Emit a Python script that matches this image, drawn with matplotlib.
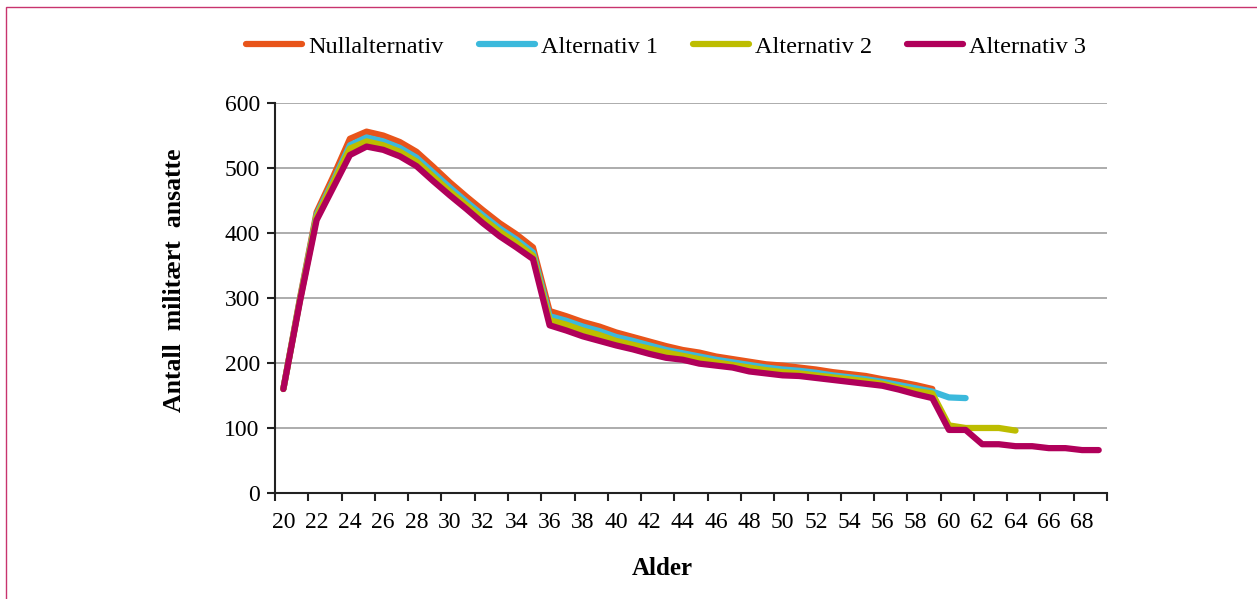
import matplotlib.pyplot as plt
from matplotlib.patches import Rectangle
import numpy as np

plt.rcParams['font.family'] = ['Liberation Serif', 'DejaVu Serif']

# data
ages_null = list(range(20, 60))
null_alt = [160, 300, 432, 487, 545, 556, 550, 540, 525, 502, 478, 456, 435, 415, 398, 378,
            280, 272, 263, 256, 247, 240, 233, 226, 220, 216, 210, 206, 202, 198, 196, 193,
            190, 186, 183, 180, 175, 171, 166, 160]

ages_a1 = list(range(20, 62))
alt1 = [160, 298, 428, 480, 535, 547, 541, 531, 516, 493, 470, 448, 427, 407, 390, 370,
        272, 265, 256, 249, 240, 234, 227, 220, 215, 210, 205, 201, 197, 193, 190, 188,
        185, 181, 178, 175, 171, 166, 161, 156, 147, 146]

ages_a2 = list(range(20, 65))
alt2 = [160, 297, 425, 477, 530, 541, 535, 525, 510, 487, 464, 443, 422, 402, 385, 365,
        266, 259, 250, 243, 234, 228, 222, 216, 211, 206, 201, 197, 193, 189, 186, 184,
        181, 178, 175, 172, 168, 162, 157, 153, 104, 100, 100, 100, 96]

ages_a3 = list(range(20, 70))
alt3 = [160, 295, 420, 470, 520, 533, 528, 518, 503, 480, 458, 437, 415, 395, 378, 360,
        258, 250, 241, 234, 227, 221, 214, 208, 205, 199, 196, 193, 187, 184, 181, 180,
        177, 174, 171, 168, 165, 159, 152, 146, 97, 97, 75, 75, 72, 72, 69, 69, 66, 66]

labels = ['Nullalternativ', 'Alternativ 1', 'Alternativ 2', 'Alternativ 3']
colors = ['#E8541A', '#3BB9DC', '#BDBD00', '#B0005A']

fig = plt.figure(figsize=(12.57, 5.99), dpi=100)
ax = fig.add_axes([0.2188, 0.177, 0.6619, 0.651])

series = [(ages_null, null_alt), (ages_a1, alt1), (ages_a2, alt2), (ages_a3, alt3)]
for (x, y), lab, c in zip(series, labels, colors):
    ax.plot(x, y, color=c, lw=4.5, label=lab, solid_capstyle='round', solid_joinstyle='round')

ax.set_xlim(19.5, 69.5)
ax.set_ylim(0, 600)
ax.set_yticks(np.arange(0, 601, 100))
ax.yaxis.grid(True, color='#A6A6A6', lw=1.3)
ax.set_axisbelow(True)

# ticks at category boundaries, labels at category centres
ax.set_xticks(np.arange(19.5, 70, 2))
ax.set_xticklabels([])
ax.set_xticks(np.arange(20, 70, 2), minor=True)
ax.set_xticklabels([str(a) for a in range(20, 70, 2)], minor=True)
ax.tick_params(axis='x', which='major', length=6, width=1.5, direction='out', color='#222222')
ax.tick_params(axis='x', which='minor', length=0, pad=14, labelsize=17)
ax.tick_params(axis='y', length=6, width=1.5, color='#222222', labelsize=17, pad=5)

for s in ['top', 'right']:
    ax.spines[s].set_visible(False)
for s in ['left', 'bottom']:
    ax.spines[s].set_linewidth(1.5)
    ax.spines[s].set_color('#222222')

ax.set_xlabel('Alder', fontsize=18, fontweight='bold', labelpad=16)
ax.xaxis.set_label_coords(0.465, -0.165)
ax.set_ylabel('Antall  militært  ansatte', fontsize=18.5, fontweight='bold')
ax.yaxis.set_label_coords(-0.107, 0.546)

fig.legend(loc='center', bbox_to_anchor=(0.53, 0.922), ncol=4, frameon=False,
           fontsize=17.5, handlelength=2.3, handletextpad=0.25, columnspacing=1.45)

fig.add_artist(Rectangle((6 / 1257, -0.05), 1.1, 1 - 7 / 599 + 0.05,
                         transform=fig.transFigure, fill=False, edgecolor='#C8336E', lw=1))

fig.savefig('out.png', dpi=100)
